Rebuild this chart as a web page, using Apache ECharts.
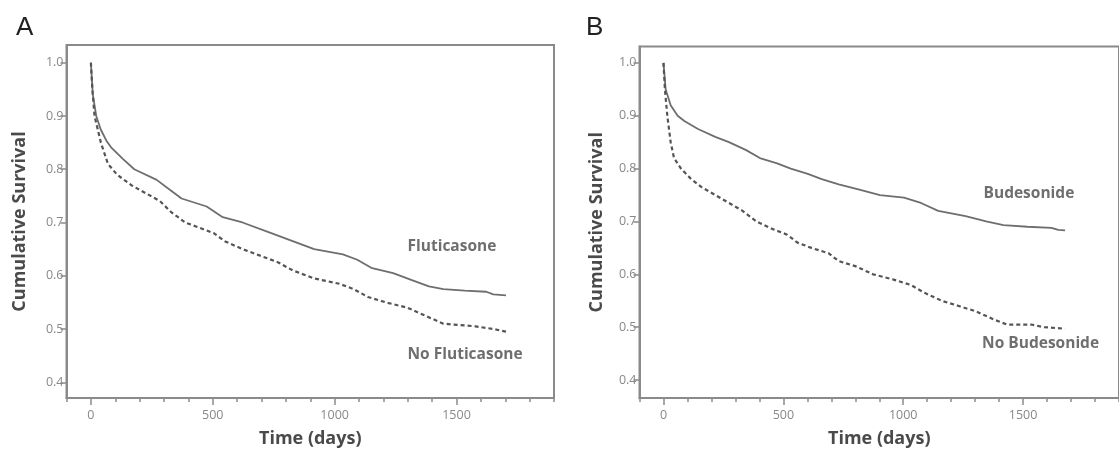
<!DOCTYPE html>
<html>
<head>
<meta charset="utf-8">
<script src="https://cdn.jsdelivr.net/npm/echarts@6/dist/echarts.min.js"></script>
<style>
html,body{margin:0;padding:0;background:#fff;}
#chart{width:1119px;height:453px;}
</style>
</head>
<body>
<div id="chart"></div>
<script>
// ---------- Data ----------
const xTickLabels = [0, 500, 1000, 1500];
const yTickLabels = [0.4, 0.5, 0.6, 0.7, 0.8, 0.9, 1.0];

// Panel A
const flutDays   = [0, 8, 22, 40, 63, 85, 130, 178, 270, 328, 372, 475, 541, 622, 740, 828, 916, 1034, 1093, 1150, 1240, 1328, 1387, 1446, 1534, 1622, 1651, 1703];
const flutSurv   = [1.0, 0.94, 0.90, 0.875, 0.854, 0.84, 0.82, 0.80, 0.78, 0.76, 0.745, 0.73, 0.71, 0.70, 0.68, 0.665, 0.65, 0.64, 0.63, 0.615, 0.605, 0.59, 0.58, 0.575, 0.572, 0.57, 0.565, 0.563];
const noFlutDays = [0, 6, 15, 41, 70, 107, 166, 225, 284, 328, 387, 446, 504, 549, 622, 681, 769, 828, 916, 1019, 1078, 1137, 1210, 1299, 1372, 1446, 1578, 1651, 1703];
const noFlutSurv = [1.0, 0.95, 0.90, 0.85, 0.81, 0.79, 0.77, 0.755, 0.74, 0.72, 0.70, 0.69, 0.68, 0.665, 0.65, 0.64, 0.625, 0.61, 0.595, 0.585, 0.575, 0.56, 0.55, 0.54, 0.525, 0.51, 0.505, 0.50, 0.495];

// Panel B
const budDays    = [0, 9, 30, 59, 87, 144, 216, 273, 345, 402, 474, 531, 602, 660, 731, 817, 903, 1003, 1074, 1146, 1260, 1346, 1418, 1518, 1618, 1647, 1675];
const budSurv    = [1.0, 0.95, 0.92, 0.90, 0.89, 0.875, 0.86, 0.85, 0.835, 0.82, 0.81, 0.80, 0.79, 0.78, 0.77, 0.76, 0.75, 0.745, 0.735, 0.72, 0.71, 0.70, 0.693, 0.69, 0.688, 0.684, 0.683];
const noBudDays  = [0, 6, 16, 30, 44, 73, 116, 159, 216, 273, 330, 388, 459, 516, 559, 617, 688, 731, 803, 874, 960, 1031, 1089, 1160, 1232, 1303, 1375, 1432, 1532, 1588, 1675];
const noBudSurv  = [1.0, 0.95, 0.90, 0.85, 0.82, 0.80, 0.78, 0.765, 0.75, 0.735, 0.72, 0.70, 0.685, 0.675, 0.66, 0.65, 0.64, 0.625, 0.615, 0.60, 0.59, 0.58, 0.565, 0.55, 0.54, 0.53, 0.515, 0.505, 0.505, 0.50, 0.497];

// Curve labels: [day, survival, text]
const labelsA = [[1299, 0.655, 'Fluticasone'], [1299, 0.452, 'No Fluticasone']];
const labelsB = [[1335, 0.752, 'Budesonide'], [1329, 0.469, 'No Budesonide']];

// ---------- Chart ----------
const zip = (xs, ys) => xs.map((x, i) => [x, ys[i]]);
const FONT = '"Open Sans", "DejaVu Sans", sans-serif';
const axisGray = '#8a8a8a';
const lineGray = '#6e6e6e';

function xAxes(gridIndex) {
  return [
    {
      type: 'value', gridIndex, position: 'bottom', min: -100, max: 1900, interval: 100,
      axisLine: { show: true, onZero: false, lineStyle: { color: axisGray, width: 2 } },
      axisTick: { show: true, length: 4, lineStyle: { color: axisGray, width: 1.5 } },
      axisLabel: { customValues: xTickLabels, formatter: v => String(v), color: '#888', fontSize: 12.5, fontFamily: FONT, margin: 11 },
      splitLine: { show: false },
      name: 'Time (days)', nameLocation: 'middle', nameGap: 32,
      nameTextStyle: { fontFamily: FONT, fontWeight: 'bold', fontSize: 18, color: '#4a4a4a' }
    },
    {
      type: 'value', gridIndex, position: 'bottom', min: -100, max: 1900, interval: 100,
      axisLine: { show: false, onZero: false },
      axisTick: { show: true, length: 7, customValues: xTickLabels, lineStyle: { color: axisGray, width: 1.5 } },
      axisLabel: { show: false },
      splitLine: { show: false }
    }
  ];
}

function yAxis(gridIndex, min, max, gap) {
  return {
    type: 'value', gridIndex, position: 'left', min, max,
    axisLine: { show: true, onZero: false, lineStyle: { color: axisGray, width: 2 } },
    axisTick: { show: true, length: 6, customValues: yTickLabels, lineStyle: { color: axisGray, width: 1.5 } },
    axisLabel: { customValues: yTickLabels, formatter: v => v.toFixed(1), color: '#888', fontSize: 12.5, fontFamily: FONT, margin: 3 },
    splitLine: { show: false },
    name: 'Cumulative Survival', nameLocation: 'middle', nameGap: gap,
    nameTextStyle: { fontFamily: FONT, fontWeight: 'bold', fontSize: 18, color: '#4a4a4a' }
  };
}

function curve(data, xi, yi, dashed) {
  return {
    type: 'line', xAxisIndex: xi, yAxisIndex: yi, data, symbol: 'none', silent: true,
    lineStyle: { color: dashed ? '#555' : lineGray, width: dashed ? 2.2 : 1.8, type: dashed ? [4, 3] : 'solid' }
  };
}

function labelSeries(data, xi, yi) {
  return {
    type: 'scatter', xAxisIndex: xi, yAxisIndex: yi, symbolSize: 0, silent: true,
    data: data.map(d => ({ value: [d[0], d[1]], name: d[2] })),
    label: { show: true, position: 'right', distance: 0, formatter: p => p.name,
             fontFamily: FONT, fontWeight: 'bold', fontSize: 15.5, color: '#4a4a4a' }
  };
}

const option = {
  animation: false,
  backgroundColor: '#fff',
  title: [
    { text: 'A', left: 11, top: 10, textStyle: { fontFamily: '"Liberation Sans", sans-serif', fontWeight: 'normal', fontSize: 26, color: '#222' } },
    { text: 'B', left: 581, top: 10, textStyle: { fontFamily: '"Liberation Sans", sans-serif', fontWeight: 'normal', fontSize: 26, color: '#222' } }
  ],
  grid: [
    { left: 66.5, top: 45, right: 565, bottom: 49, show: true, borderColor: axisGray, borderWidth: 2, containLabel: false },
    { left: 639.5, top: 46.5, right: -9, bottom: 52, show: true, borderColor: axisGray, borderWidth: 2, containLabel: false }
  ],
  xAxis: [...xAxes(0), ...xAxes(1)],
  yAxis: [yAxis(0, 0.3705, 1.0332, 38), yAxis(1, 0.366, 1.031, 34)],
  series: [
    curve(zip(flutDays, flutSurv), 0, 0, false),
    curve(zip(noFlutDays, noFlutSurv), 0, 0, true),
    labelSeries(labelsA, 0, 0),
    curve(zip(budDays, budSurv), 2, 1, false),
    curve(zip(noBudDays, noBudSurv), 2, 1, true),
    labelSeries(labelsB, 2, 1)
  ]
};

const chart = echarts.init(document.getElementById('chart'), null, { renderer: 'canvas' });
chart.setOption(option);
</script>
</body>
</html>
